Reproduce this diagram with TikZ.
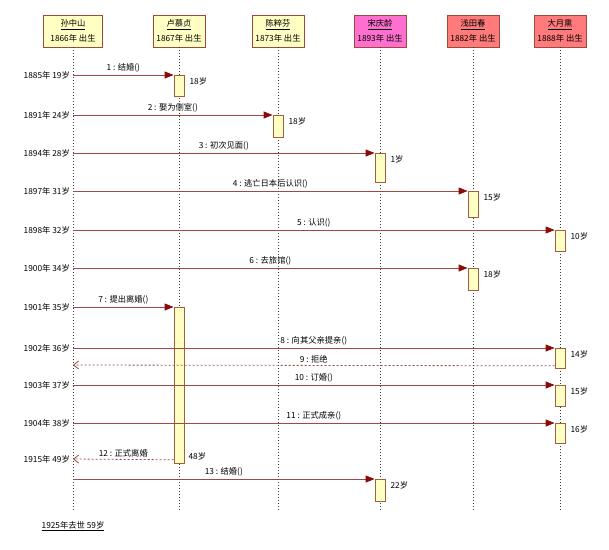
\documentclass[tikz,border=0pt]{standalone}
\usepackage{fontspec}
\setmainfont{Noto Sans CJK SC}
\usetikzlibrary{arrows.meta}
\definecolor{yellowbox}{HTML}{FFFFC4}
\definecolor{pinkbox}{HTML}{FF6FCF}
\definecolor{salmonbox}{HTML}{FF7A7A}
\definecolor{headline}{HTML}{9E4A3A}
\definecolor{actline}{HTML}{A0603C}
\definecolor{msgline}{HTML}{A04848}
\definecolor{tipred}{HTML}{8B0A0A}

\begin{document}
\begin{tikzpicture}[x=1pt,y=-1pt,
  every node/.style={font=\fontsize{8.3}{10}\selectfont},
  head/.style={draw=headline,line width=0.8pt,minimum width=52,minimum height=32,inner sep=1pt,align=center,font=\fontsize{8.3}{15}\selectfont},
  life/.style={draw=gray!45!black,line width=1pt,dash pattern=on 1pt off 2pt},
  act/.style={draw=actline,fill=yellowbox,line width=0.8pt,minimum width=10,inner sep=0pt,anchor=north},
  msg/.style={draw=msgline,line width=0.8pt,-{Triangle[length=9pt,width=7pt,color=tipred]}},
  ret/.style={draw=msgline,line width=0.8pt,dash pattern=on 2pt off 2pt,-{Straight Barb[length=5pt,width=8pt]}},
  lbl/.style={above,inner sep=2pt}]
  \useasboundingbox (0,0) rectangle (609,549);

  % 人物
  \node[head,fill=yellowbox,minimum width=59] (sun) at (73,31) {\underline{孙中山}\\1866年 出生};
  \node[head,fill=yellowbox] (lu) at (179,31) {\underline{卢慕贞}\\1867年 出生};
  \node[head,fill=yellowbox] (chen) at (278,31) {\underline{陈粹芬}\\1873年 出生};
  \node[head,fill=pinkbox] (song) at (380,31) {\underline{宋庆龄}\\1893年 出生};
  \node[head,fill=salmonbox] (qian) at (473,31) {\underline{浅田春}\\1882年 出生};
  \node[head,fill=salmonbox] (da) at (560,31) {\underline{大月熏}\\1888年 出生};

  % 生命线
  \foreach \p in {sun,lu,chen,song,qian,da}
    \draw[life] (\p.south) -- (\p |- 0,512) coordinate (\p-end);

  % 激活框
  \foreach \n/\p/\y/\h in {1/lu/75/21, 2/chen/115/22, 3/song/153/29, 4/qian/191/26, 5/da/230/21, 6/qian/268/22, 7/lu/307/156, 8/da/348/20, 10/da/385/21, 11/da/423/20, 13/song/479/22}
    \node[act,minimum height=\h] (a\n) at (\p |- 0,\y) {};

  % 消息
  \foreach \n/\y/\txt in {1/75/结婚(), 2/115/娶为侧室(), 3/153/初次见面(), 4/191/逃亡日本后认识(), 5/230/认识(), 6/268/去旅馆(), 7/307/提出离婚(), 8/348/向其父亲提亲(), 10/385/订婚(), 11/423/正式成亲(), 13/479/结婚()}
  {
    \coordinate (m\n) at (sun |- 0,\y);
    \draw[msg] (m\n) -- (a\n.north west) node[lbl,midway] {\n{} : \txt};
  }

  % 返回
  \coordinate (m9) at (sun |- 0,365);
  \coordinate (d9) at ([yshift=3pt]a8.south west);
  \draw[ret] (d9) -- (m9) node[lbl,midway] {9 : 拒绝};
  \coordinate (m12) at (sun |- 0,459);
  \coordinate (d12) at ([yshift=4pt]a7.south west);
  \draw[ret] (d12) -- (m12) node[lbl,midway] {12 : 正式离婚};

  % 年份
  \foreach \n/\yr in {1/1885年 19岁, 2/1891年 24岁, 3/1894年 28岁, 4/1897年 31岁, 5/1898年 32岁, 6/1900年 34岁, 7/1901年 35岁, 8/1902年 36岁, 10/1903年 37岁, 11/1904年 38岁, 12/1915年 49岁}
    \node[left,inner sep=3pt] (y\n) at (m\n) {\yr};

  % 年龄
  \foreach \n/\age in {1/18岁, 2/18岁, 3/1岁, 4/15岁, 5/10岁, 6/18岁, 8/14岁, 10/15岁, 11/16岁, 13/22岁}
    \node[anchor=west,inner sep=0pt] (g\n) at ([xshift=5pt,yshift=-6pt]a\n.north east) {\age};
  \node[anchor=west,inner sep=0pt] (g7) at ([xshift=4pt,yshift=7pt]a7.south east) {48岁};

  % 去世
  \node (death) at (sun |- 0,526) {\underline{1925年去世 59岁}};
\end{tikzpicture}
\end{document}
